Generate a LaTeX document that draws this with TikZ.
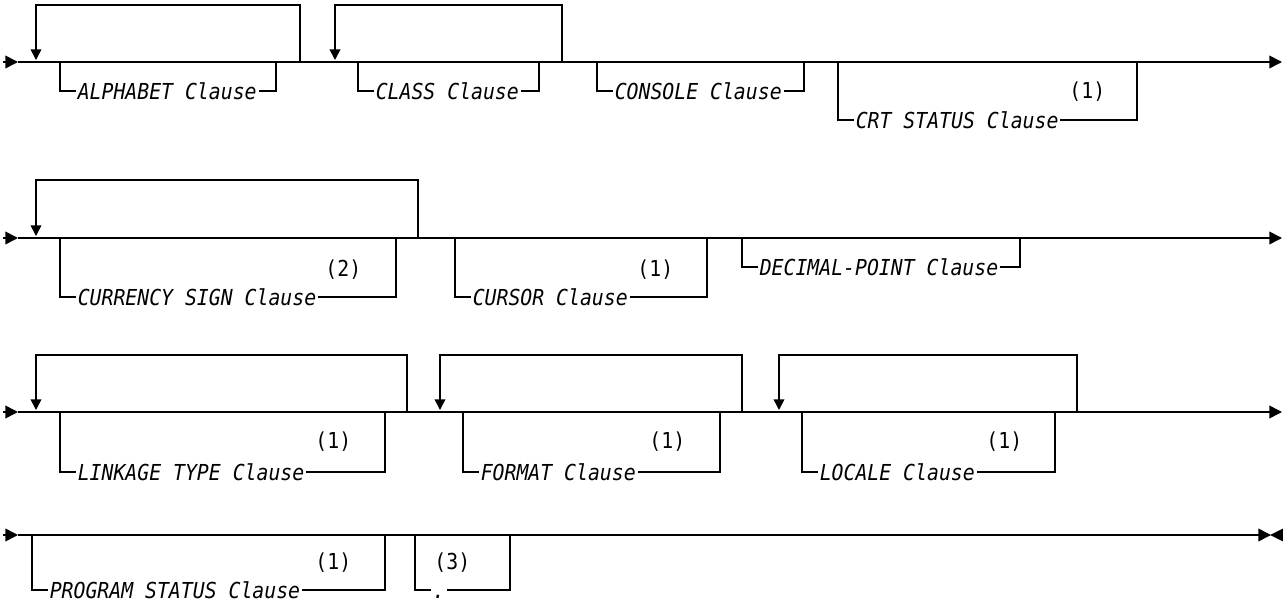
\documentclass[tikz,border=0pt]{standalone}
\usepackage{fontspec}
\setmonofont[FakeStretch=0.9]{DejaVu Sans Mono}
\usetikzlibrary{arrows.meta}

\begin{document}
\begin{tikzpicture}[x=0.75pt,y=-0.75pt,line width=1.2pt,
        clause/.style={anchor=west,fill=white,inner xsep=1.5pt,inner ysep=0pt,
            text height=12pt,text depth=0pt,font=\fontsize{16.5}{18}\selectfont\ttfamily\itshape},
        note/.style={anchor=east,inner sep=0pt,font=\fontsize{16.5}{18}\selectfont\ttfamily},
        tip/.style={-{Triangle[length=9.5pt,width=9.5pt]}},
        looptip/.style={-{Triangle[length=8pt,width=8pt]}}]
        \useasboundingbox (0,0) rectangle (1283,603);
        % main lines
        \foreach \y/\n in {62/1,238/2,412/3}{
            \coordinate (s\n) at (3,\y);
            \coordinate (e\n) at (1282,\y);
            \draw[tip] (s\n) -- ++(15,0);
            \draw[tip] ([xshift=11pt]s\n) -- (e\n);
        }
        \coordinate (s4) at (3,535);
        \coordinate (e4) at (1283,535);
        \draw[tip] (s4) -- ++(15,0);
        \draw[tip] ([xshift=11pt]s4) -- (1271,535);
        \fill (e4) -- ++(0,-6.5) -- (1270,535) -- (1283,541.5) -- cycle;
        % repeat loops
        \foreach \xa/\xb/\ym/\yt/\nm in {36/300/62/5/la, 335/562/62/5/lb, 36/418/238/180/lc,
                36/407/412/355/ld, 440/742/412/355/le, 779/1077/412/355/lf}{
            \coordinate (\nm r) at (\xb,\ym);
            \coordinate (\nm l) at (\xa,\ym-2);
            \draw[looptip] (\nm r) |- (\xa,\yt) -- (\nm l);
        }
        % optional clauses
        \foreach \xl/\xr/\ym/\yb/\txt/\nm in {
                60/276/62/91/ALPHABET Clause/alpha,
                358/539/62/91/CLASS Clause/class,
                597/804/62/91/CONSOLE Clause/console,
                838/1137/62/120/CRT STATUS Clause/crt,
                60/396/238/297/CURRENCY SIGN Clause/currency,
                455/707/238/297/CURSOR Clause/cursor,
                742/1020/238/267/DECIMAL-POINT Clause/decimal,
                60/385/412/472/LINKAGE TYPE Clause/linkage,
                463/720/412/472/FORMAT Clause/format,
                802/1055/412/472/LOCALE Clause/locale,
                32/385/535/590/PROGRAM STATUS Clause/program,
                415/510/535/590/./period}{
            \coordinate (\nm a) at (\xl,\ym);
            \coordinate (\nm b) at (\xr,\ym);
            \draw (\nm a) |- (\xr,\yb) -- (\nm b);
            \node[clause] (\nm) at (\xl+15,\yb) {\txt};
        }
        % footnote marks
        \foreach \x/\y/\t/\nm in {1106/92/{(1)}/crtnote, 362/270/{(2)}/currencynote,
                674/270/{(1)}/cursornote, 352/442/{(1)}/linkagenote, 686/442/{(1)}/formatnote,
                1023/442/{(1)}/localenote, 352/563/{(1)}/programnote, 471/563/{(3)}/periodnote}
            \node[note] (\nm) at (\x,\y) {\t};
    \end{tikzpicture}
\end{document}
